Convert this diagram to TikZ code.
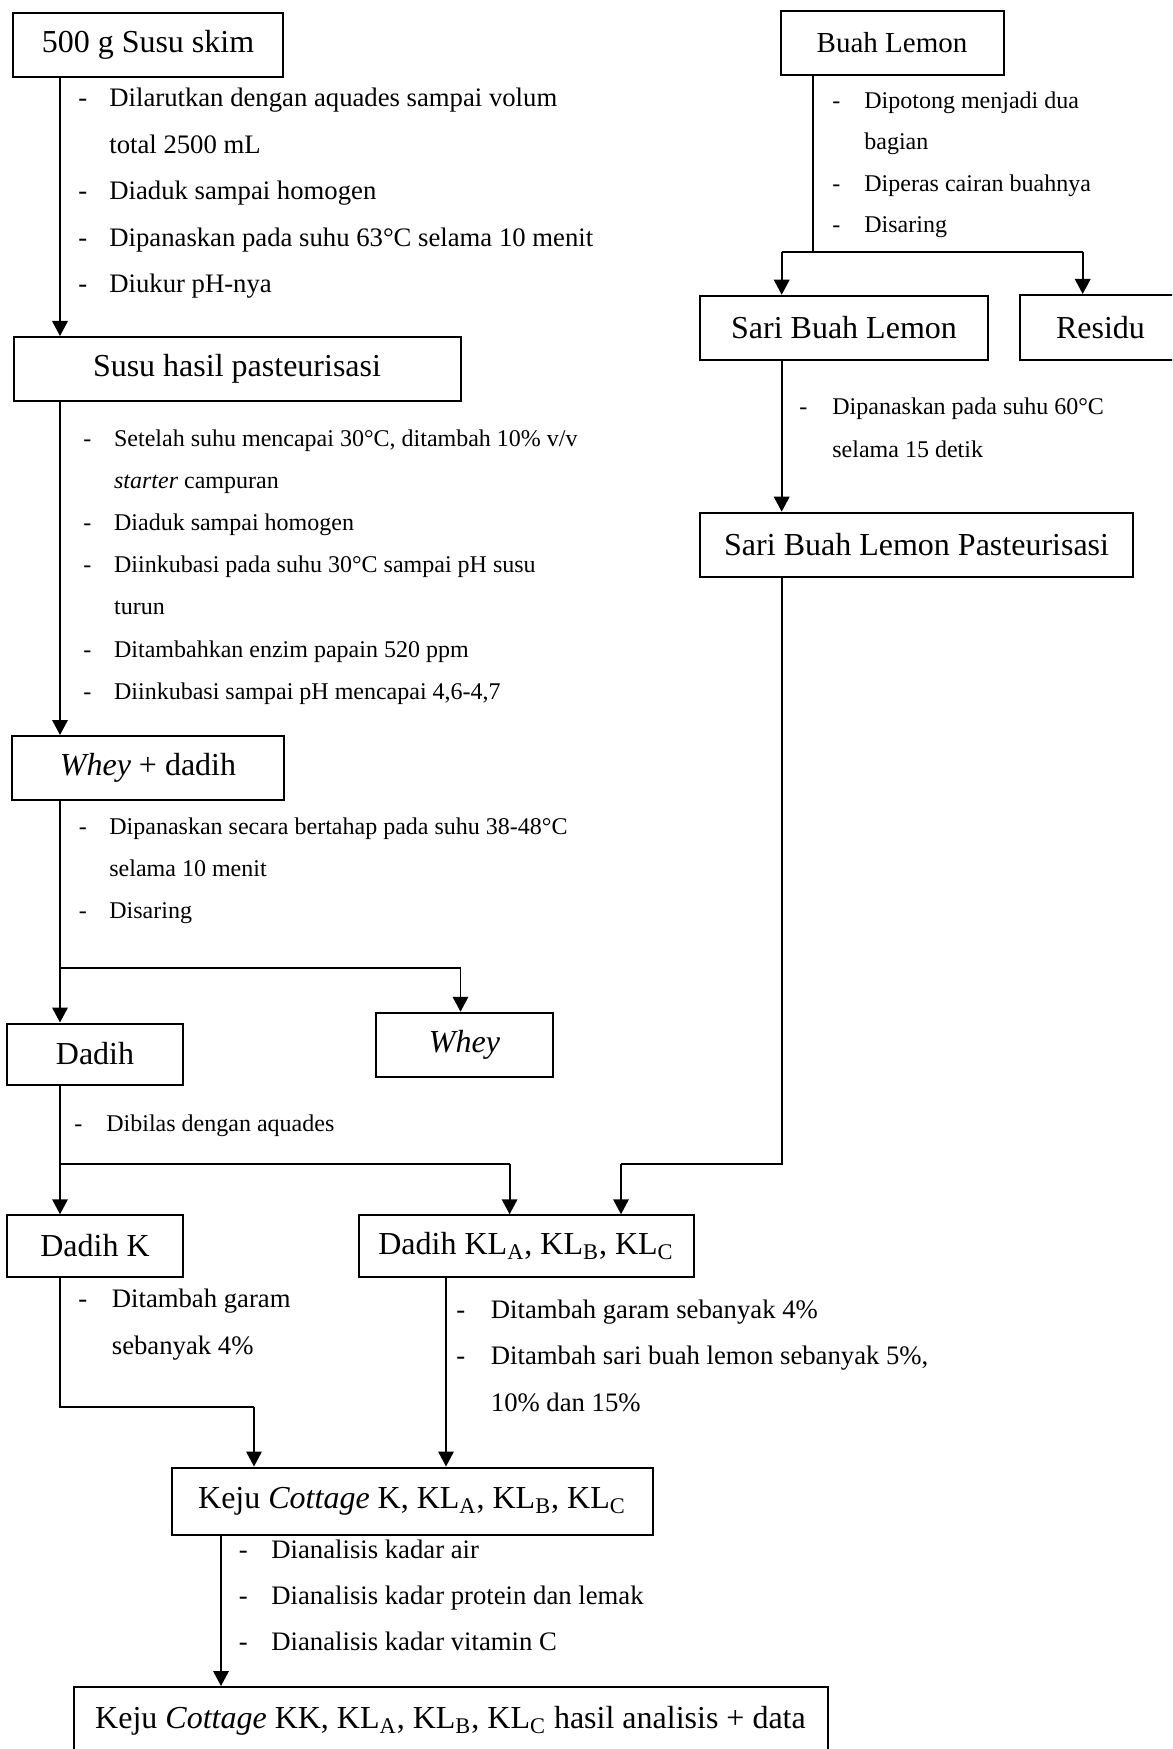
\documentclass[tikz,border=0pt]{standalone}
\usepackage{fontspec}
\setmainfont{Liberation Serif}
\usetikzlibrary{arrows.meta}

\tikzset{
  box/.style={draw, line width=1pt, inner sep=0pt, font=\fontsize{16}{19}\selectfont},
  flow/.style={line width=0.95pt},
  flowarrow/.style={flow, -{Triangle[width=7.75pt,length=7.5pt]}},
  notes/.style 2 args={anchor=base west, inner sep=0pt, font=\fontsize{#1}{#2}\selectfont}
}

\begin{document}
\begin{tikzpicture}[x=0.5pt,y=-0.5pt]
\useasboundingbox (0,0) rectangle (1172,1749);
\clip (0,0) rectangle (1172,1749);

% left column
\node[box, minimum width=135pt, minimum height=32pt] (skim) at (148,45) {500 g Susu skim};
\node[box, minimum width=223.5pt, minimum height=32pt] (past) at (237,369) {Susu hasil pasteurisasi};
\node[box, minimum width=136pt, minimum height=32pt] (curd) at (148,768) {\textit{Whey} + dadih};
\node[box, minimum width=88pt, minimum height=30.5pt] (dadih) at (95,1054) {Dadih};
\node[box, minimum width=88.5pt, minimum height=32.25pt] (whey) at (464.5,1045) {\textit{Whey}};
\node[box, minimum width=88pt, minimum height=30.75pt] (dadihk) at (95,1246) {Dadih K};
\node[box, minimum width=167.5pt, minimum height=30.75pt] (dadihkl) at (526,1246)
  {Dadih KL\textsubscript{A}, KL\textsubscript{B}, KL\textsubscript{C}};
\node[box, minimum width=240.5pt, minimum height=33.5pt] (keju) at (412,1501)
  {Keju \textit{Cottage} K, KL\textsubscript{A}, KL\textsubscript{B}, KL\textsubscript{C}};
\node[box, minimum width=377pt, minimum height=33.5pt] (hasil) at (450.5,1720.5)
  {Keju \textit{Cottage} KK, KL\textsubscript{A}, KL\textsubscript{B}, KL\textsubscript{C} hasil analisis + data};

% right column
\node[box, minimum width=111.5pt, minimum height=31.8pt, font=\fontsize{14.5}{17}\selectfont] (lemon) at (892,43) {Buah Lemon};
\node[box, minimum width=144pt, minimum height=32.25pt] (sari) at (844,328) {Sari Buah Lemon};
\node[box, minimum width=80.5pt, minimum height=32.5pt] (residu) at (1100.5,327.5) {Residu};
\node[box, minimum width=216.5pt, minimum height=32.3pt] (sarip) at (916.6,545) {Sari Buah Lemon Pasteurisasi};

% steps
\node[notes={13.35}{23.25}] (stepskim) at (78,107) {\begin{tabular}[t]{@{}p{15.5pt}@{}l@{}}
- & Dilarutkan dengan aquades sampai volum\\
  & total 2500 mL\\
- & Diaduk sampai homogen\\
- & Dipanaskan pada suhu 63°C selama 10 menit\\
- & Diukur pH-nya
\end{tabular}};
\node[notes={12}{21.1}] (steppast) at (83,446) {\begin{tabular}[t]{@{}p{15.35pt}@{}l@{}}
- & Setelah suhu mencapai 30°C, ditambah 10\% v/v\\
  & \textit{starter} campuran\\
- & Diaduk sampai homogen\\
- & Diinkubasi pada suhu 30°C sampai pH susu\\
  & turun\\
- & Ditambahkan enzim papain 520 ppm\\
- & Diinkubasi sampai pH mencapai 4,6-4,7
\end{tabular}};
\node[notes={12}{21}] (stepcurd) at (78.5,834) {\begin{tabular}[t]{@{}p{15.25pt}@{}l@{}}
- & Dipanaskan secara bertahap pada suhu 38-48°C\\
  & selama 10 menit\\
- & Disaring
\end{tabular}};
\node[notes={12}{21}] (stepdadih) at (74,1131) {\begin{tabular}[t]{@{}p{16pt}@{}l@{}}
- & Dibilas dengan aquades
\end{tabular}};
\node[notes={13.35}{23.5}] (stepk) at (78,1307) {\begin{tabular}[t]{@{}p{16.75pt}@{}l@{}}
- & Ditambah garam\\
  & sebanyak 4\%
\end{tabular}};
\node[notes={13.35}{23.25}] (stepkl) at (456,1318) {\begin{tabular}[t]{@{}p{17.25pt}@{}l@{}}
- & Ditambah garam sebanyak 4\%\\
- & Ditambah sari buah lemon sebanyak 5\%,\\
  & 10\% dan 15\%
\end{tabular}};
\node[notes={13.35}{23}] (stepkeju) at (238.5,1558) {\begin{tabular}[t]{@{}p{16.25pt}@{}l@{}}
- & Dianalisis kadar air\\
- & Dianalisis kadar protein dan lemak\\
- & Dianalisis kadar vitamin C
\end{tabular}};
\node[notes={12}{20.75}] (steplemon) at (832,108.5) {\begin{tabular}[t]{@{}p{16pt}@{}l@{}}
- & Dipotong menjadi dua\\
  & bagian\\
- & Diperas cairan buahnya\\
- & Disaring
\end{tabular}};
\node[notes={12}{21.75}] (stepsari) at (799,414) {\begin{tabular}[t]{@{}p{16.5pt}@{}l@{}}
- & Dipanaskan pada suhu 60°C\\
  & selama 15 detik
\end{tabular}};

% left spine
\coordinate (spine) at (60,0);
\draw[flowarrow] (skim.south -| spine) -- (past.north -| spine);
\draw[flowarrow] (past.south -| spine) -- (curd.north -| spine);

% whey split
\coordinate (wheyfork) at (60,968);
\coordinate (wheydrop) at (460.5,968);
\draw[flow] (curd.south -| spine) -- (wheyfork) -- (wheydrop);
\draw[flowarrow] (wheyfork) -- (dadih.north -| wheyfork);
\draw[flowarrow] (wheydrop) -- (wheydrop |- whey.north);

% dadih split
\coordinate (dadihfork) at (60,1164);
\coordinate (kldrop) at (509.6,1164);
\draw[flow] (dadih.south -| spine) -- (dadihfork) -- (kldrop);
\draw[flowarrow] (dadihfork) -- (dadihk.north -| dadihfork);
\draw[flowarrow] (kldrop) -- (kldrop |- dadihkl.north);

% lemon
\coordinate (lemondown) at (813,252);
\coordinate (saridrop) at (781.7,252);
\coordinate (residudrop) at (1082.7,252);
\draw[flow] (lemon.south -| lemondown) -- (lemondown);
\draw[flow] (saridrop) -- (residudrop);
\draw[flowarrow] (saridrop) -- (saridrop |- sari.north);
\draw[flowarrow] (residudrop) -- (residudrop |- residu.north);
\draw[flowarrow] (sari.south -| saridrop) -- (sarip.north -| saridrop);

% lemon juice into dadih KL
\coordinate (juicebend) at (781.7,1164);
\coordinate (juicedrop) at (621,1164);
\draw[flow] (sarip.south -| juicebend) -- (juicebend) -- (juicedrop);
\draw[flowarrow] (juicedrop) -- (juicedrop |- dadihkl.north);

% into keju
\coordinate (kbend) at (60,1407);
\coordinate (kdrop) at (254,1407);
\draw[flow] (dadihk.south -| spine) -- (kbend) -- (kdrop);
\draw[flowarrow] (kdrop) -- (kdrop |- keju.north);
\coordinate (kldown) at (446,0);
\draw[flowarrow] (dadihkl.south -| kldown) -- (keju.north -| kldown);
\coordinate (kejudown) at (221,0);
\draw[flowarrow] (keju.south -| kejudown) -- (hasil.north -| kejudown);

\end{tikzpicture}
\end{document}
